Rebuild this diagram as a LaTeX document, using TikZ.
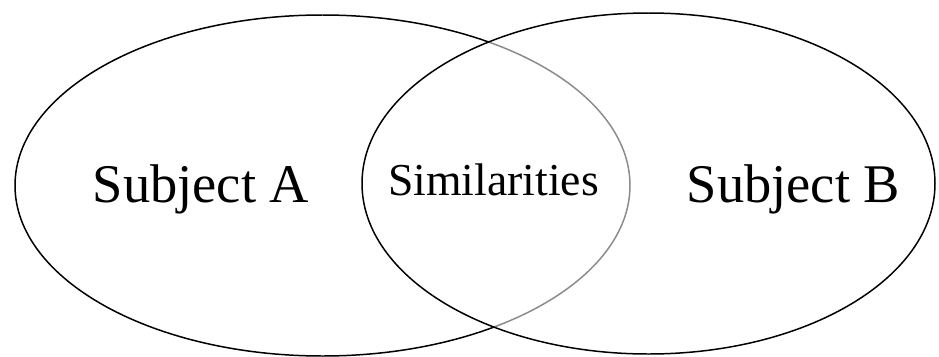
\documentclass[tikz,border=0pt]{standalone}
\usepackage{fontspec}
\setmainfont{Liberation Serif}
\usetikzlibrary{shapes.geometric, positioning}
\tikzset{
  % contorno di un insieme
  setshape/.style={ellipse, draw=black, line width=0.85pt, inner sep=0pt},
  % etichette
  lbl big/.style={font=\fontsize{31}{37}\selectfont, anchor=base},
  lbl mid/.style={font=\fontsize{26}{31}\selectfont, anchor=base},
}
\begin{document}
\begin{tikzpicture}
  \useasboundingbox (0,0) rectangle (18.78,7.12);
  \node[setshape, minimum width=12.3cm, minimum height=6.82cm] (setA) at (6.45,3.41) {};
  % parte di A dentro B, piu chiara
  \begin{scope}
    \clip (12.97,3.45) ellipse [x radius=5.73cm, y radius=3.41cm];
    \draw[white, line width=2pt] (setA.center) ellipse [x radius=6.15cm, y radius=3.41cm];
    \draw[black!45, line width=0.85pt] (setA.center) ellipse [x radius=6.15cm, y radius=3.41cm];
  \end{scope}
  \node[setshape, minimum width=11.46cm, minimum height=6.82cm] (setB) at (12.97,3.45) {};
  \node[lbl big] (labA) at (4.02,3.08) {Subject A};
  \node[lbl mid] (labS) at (9.87,3.22) {Similarities};
  \node[lbl big] (labB) at (15.87,3.08) {Subject B};
\end{tikzpicture}
\end{document}
